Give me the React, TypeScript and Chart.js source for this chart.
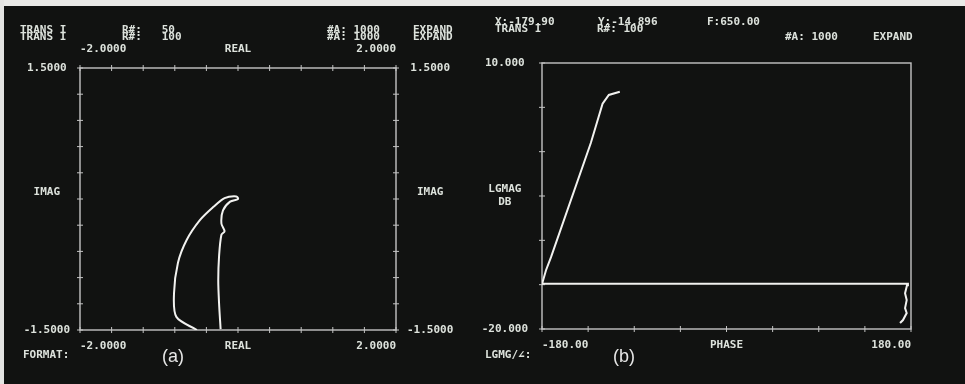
import React, { useEffect, useRef } from "react";
import { Chart, registerables } from "chart.js";

Chart.register(...registerables);

// ---- Panel (a): IMAG vs REAL (polar trace) ----
const realValues = [-0.52, -0.78, -0.81, -0.76, -0.65, -0.48, -0.31, -0.17, -0.02, 0.0, -0.1, -0.19, -0.21, -0.17, -0.21, -0.24, -0.25, -0.24, -0.22];
const imagValues = [-1.5, -1.35, -1.08, -0.73, -0.47, -0.24, -0.09, 0.01, 0.03, 0.0, -0.03, -0.13, -0.28, -0.37, -0.41, -0.66, -0.93, -1.19, -1.49];
const realAxisLabels = ["-2.0000", "REAL", "2.0000"];
const imagAxisLabels = ["-1.5000", "IMAG", "1.5000"];

// ---- Panel (b): LGMAG vs PHASE ----
const phaseValues = [169.3, 172.2, 175.8, 174.2, 175.8, 174.2, 176.1, 177.0, -179.9, -176.1, -171.2, -132.3, -120.9, -114.8, -104.1];
const magValues = [-19.33, -18.99, -18.2, -17.64, -16.74, -15.96, -15.06, -14.9, -14.9, -13.37, -11.9, 1.0, 5.4, 6.4, 6.75];
const phaseAxisLabels = ["-180.00", "PHASE", "180.00"];
const magAxisLabels: (string | string[])[] = ["-20.000", ["LGMAG", "DB"], "10.000"];

const TEXT = "#dde2dc";
const TRACE = "#f2f2f0";
const FRAME = "#c4c4c4";
const MONO = "'DejaVu Sans Mono', monospace";

const close = (a: number, b: number) => Math.abs(a - b) < 1e-6;
const labelCb = (labels: any[], min: number, max: number) => (v: any) => {
  const n = Number(v);
  if (close(n, min)) return labels[0];
  if (close(n, (min + max) / 2)) return labels[1];
  if (close(n, max)) return labels[2];
  return "";
};

const framePlugin = {
  id: "frame",
  beforeDatasetsDraw(chart: any, _a: any, opts: any) {
    const { ctx, chartArea: a } = chart;
    ctx.save();
    ctx.strokeStyle = FRAME;
    ctx.lineWidth = 1.4;
    ctx.strokeRect(a.left, a.top, a.right - a.left, a.bottom - a.top);
    ctx.lineWidth = 1;
    for (const id of opts.tickScales || []) {
      const s = chart.scales[id];
      if (!s) continue;
      s.ticks.forEach((t: any) => {
        const p = s.getPixelForValue(t.value);
        ctx.beginPath();
        if (s.isHorizontal()) {
          const y = s.position === "top" ? a.top : a.bottom;
          ctx.moveTo(p, y - 3);
          ctx.lineTo(p, y + 3);
        } else {
          const x = s.position === "right" ? a.right : a.left;
          ctx.moveTo(x - 3, p);
          ctx.lineTo(x + 3, p);
        }
        ctx.stroke();
      });
    }
    ctx.restore();
  },
};

const tickFont = { family: MONO, size: 11, weight: "bold" as const };

function axis(position: string, min: number, max: number, step: number, labels: any[], padding: number, size: number, extra: any = {}) {
  const horizontal = position === "top" || position === "bottom";
  return {
    type: "linear",
    position,
    min,
    max,
    grid: { display: false, drawTicks: false },
    border: { display: false },
    ticks: {
      stepSize: step,
      autoSkip: false,
      maxRotation: 0,
      color: TEXT,
      font: tickFont,
      padding,
      callback: labelCb(labels, min, max),
      ...(horizontal ? { align: "inner" } : { crossAlign: "center" }),
      ...extra,
    },
    afterFit: (s: any) => {
      if (horizontal) s.height = size;
      else s.width = size;
    },
  };
}

function PanelA() {
  const ref = useRef<HTMLCanvasElement>(null);
  useEffect(() => {
    const chart = new Chart(ref.current as HTMLCanvasElement, {
      type: "scatter",
      data: {
        datasets: [
          {
            data: realValues.map((x, i) => ({ x, y: imagValues[i] })),
            showLine: true,
            borderColor: TRACE,
            borderWidth: 2,
            pointRadius: 0,
            tension: 0.3,
            xAxisID: "x",
            yAxisID: "y",
          },
        ],
      },
      options: {
        animation: false,
        responsive: false,
        devicePixelRatio: 1,
        layout: { padding: { left: 14, right: 501, top: 18, bottom: 14 } },
        plugins: {
          legend: { display: false },
          tooltip: { enabled: false },
          frame: { tickScales: ["x", "x2", "y", "y2"] },
        } as any,
        scales: {
          x: axis("bottom", -2, 2, 0.4, realAxisLabels, 10, 40),
          x2: axis("top", -2, 2, 0.4, realAxisLabels, 12, 50),
          y: axis("left", -1.5, 1.5, 0.3, imagAxisLabels.map((l, i) => (i === 1 ? [l, " "] : l)), 10, 66),
          y2: axis("right", -1.5, 1.5, 0.3, imagAxisLabels.map((l, i) => (i === 1 ? [l, " "] : l)), 11, 68),
        } as any,
      },
      plugins: [framePlugin],
    });
    return () => chart.destroy();
  }, []);
  return <canvas ref={ref} width={965} height={384} style={{ position: "absolute", left: 0, top: 0 }} />;
}

function PanelB() {
  const ref = useRef<HTMLCanvasElement>(null);
  useEffect(() => {
    const chart = new Chart(ref.current as HTMLCanvasElement, {
      type: "scatter",
      data: {
        datasets: [
          {
            data: phaseValues.map((x, i) => ({ x, y: magValues[i] })),
            showLine: true,
            borderColor: TRACE,
            borderWidth: 2,
            pointRadius: 0,
            tension: 0,
            xAxisID: "x",
            yAxisID: "y",
          },
        ],
      },
      options: {
        animation: false,
        responsive: false,
        devicePixelRatio: 1,
        layout: { padding: { left: 465, right: 54, top: 63, bottom: 15 } },
        plugins: {
          legend: { display: false },
          tooltip: { enabled: false },
          frame: { tickScales: ["x", "y"] },
        } as any,
        scales: {
          x: axis("bottom", -180, 180, 45, phaseAxisLabels, 10, 40),
          y: axis("left", -20, 10, 5, magAxisLabels, 14, 77),
        } as any,
      },
      plugins: [framePlugin],
    });
    return () => chart.destroy();
  }, []);
  return <canvas ref={ref} width={965} height={384} style={{ position: "absolute", left: 0, top: 0 }} />;
}

const headerTexts: [string, number, number][] = [
  ["TRANS I", 20, 24],
  ["TRANS I", 20, 31],
  ["R#:   50", 122, 24],
  ["R#:   100", 122, 31],
  ["#A: 1000", 327, 24],
  ["#A: 1000", 327, 31],
  ["EXPAND", 413, 24],
  ["EXPAND", 413, 31],
  ["X:-179.90", 495, 16],
  ["Y:-14.896", 598, 16],
  ["F:650.00", 707, 16],
  ["TRANS I", 495, 23],
  ["R#: 100", 597, 23],
  ["#A: 1000", 785, 31],
  ["EXPAND", 873, 31],
  ["FORMAT:", 23, 349],
  ["LGMG/\u2220:", 485, 349],
];

const panelTags: [string, number, number][] = [
  ["(a)", 162, 346],
  ["(b)", 613, 346],
];

export default function App() {
  return (
    <div
      style={{
        position: "fixed",
        left: 0,
        top: 0,
        width: 965,
        height: 384,
        background: "#111211",
        overflow: "hidden",
      }}
    >
      <div style={{ position: "absolute", left: 0, top: 0, width: 965, height: 6, background: "#e9e9e7" }} />
      <div style={{ position: "absolute", left: 0, top: 0, width: 4, height: 384, background: "#e4e4e2" }} />
      <PanelA />
      <PanelB />
      {headerTexts.map(([t, x, y], i) => (
        <div
          key={i}
          style={{
            position: "absolute",
            left: x,
            top: y,
            font: `bold 11px ${MONO}`,
            lineHeight: "11px",
            color: TEXT,
            whiteSpace: "pre",
          }}
        >
          {t}
        </div>
      ))}
      {panelTags.map(([t, x, y], i) => (
        <div
          key={"t" + i}
          style={{
            position: "absolute",
            left: x,
            top: y,
            font: "18px 'Liberation Sans', Arial, sans-serif",
            lineHeight: "20px",
            color: "#e6e6e6",
          }}
        >
          {t}
        </div>
      ))}
    </div>
  );
}
